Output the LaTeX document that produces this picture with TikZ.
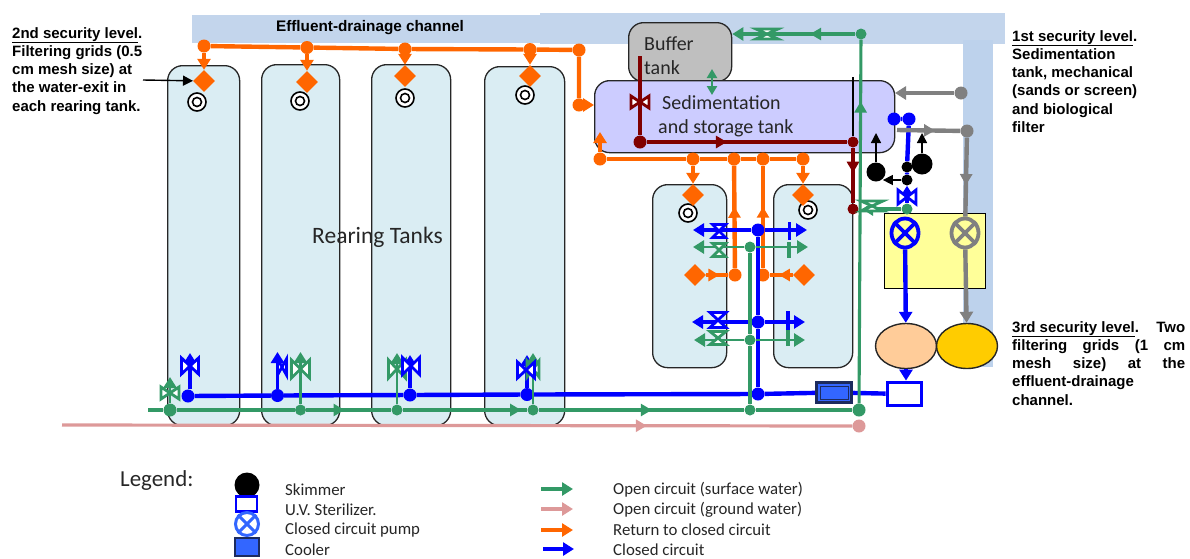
\documentclass[tikz,border=0pt]{standalone}
\usepackage{fontspec}
\setmainfont{Carlito}
\newfontfamily\arialf{Liberation Sans}
\usetikzlibrary{arrows.meta,decorations.markings,shapes.geometric}
\definecolor{chan}{HTML}{C3D5EC}
\definecolor{chanv}{HTML}{BDD2EC}
\definecolor{tankc}{HTML}{DAEDF3}
\definecolor{gr}{HTML}{339966}
\definecolor{pk}{HTML}{DD9999}
\definecolor{og}{HTML}{FF6600}
\definecolor{bl}{HTML}{0000FF}
\definecolor{rd}{HTML}{800000}
\definecolor{gy}{HTML}{808080}
\definecolor{lb}{HTML}{3366FF}
\definecolor{nv}{HTML}{1C2B5E}
\definecolor{bufc}{HTML}{BFBFBF}
\definecolor{sedc}{HTML}{CCCCFF}
\definecolor{yelc}{HTML}{FFFF99}
\definecolor{peachc}{HTML}{FFCC99}
\definecolor{goldc}{HTML}{FFCC00}
\tikzset{
 x=1pt,y=-1pt,
 tank/.style={draw=black!85,line width=1.3pt,fill=tankc,rounded corners=15pt,inner sep=0pt,anchor=north west},
 dot/.style={circle,fill=#1,inner sep=0pt,minimum size=13pt},
 sdot/.style={circle,fill=#1,inner sep=0pt,minimum size=11pt},
 ring/.style={circle,draw=black,line width=1.6pt,fill=white,minimum size=18pt,inner sep=0pt,
   path picture={\draw[black,line width=1.6pt] (path picture bounding box.center) circle[radius=4.5pt];}},
 diam/.style={diamond,fill=og,inner sep=0pt,minimum size=22pt},
 ol/.style={draw=og,line width=4.4pt},
 bll/.style={draw=bl,line width=4.4pt},
 gl/.style={draw=gr,line width=3.1pt},
 rl/.style={draw=rd,line width=3.6pt},
 gyl/.style={draw=gy,line width=4.4pt},
 pl/.style={draw=pk,line width=3.2pt},
 kl/.style={draw=black,line width=1.4pt},
 tip/.style={-{Triangle[length=11pt,width=13pt]}},
 ktip/.style={-{Triangle[length=10pt,width=10pt]}},
 midar/.style={postaction={decorate},decoration={markings,mark=at position #1 with {\arrow{Triangle[length=11pt,width=12pt]}}}},
 pump/.style={ellipse,draw=#1,line width=3.8pt,fill=none,inner sep=0pt,minimum width=27pt,minimum height=29pt},
 lab/.style={font=\fontsize{16.8}{18}\selectfont,anchor=west,inner sep=0pt,text=black!85},
 note/.style={font=\arialf\bfseries\fontsize{15}{18.3}\selectfont,anchor=north west,align=left,inner sep=0pt,text=black},
 pics/vv/.style n args={3}{code={\draw[draw=#1,fill=white,line width=2.8pt,line join=miter]
   (-#2,-#3)--(#2,#3)--(#2,-#3)--(-#2,#3)--cycle;}},
}
\begin{document}
\begin{tikzpicture}
\useasboundingbox (0,0) rectangle (1190,558);
% drainage channel
\fill[chan] (192,15) rectangle (541,43);
\fill[chan] (540,13) rectangle (1005,44);
\fill[chanv] (963,40) rectangle (993,367);
\node[font=\arialf\bfseries\fontsize{15.3}{18}\selectfont,inner sep=0pt] (chanlab) at (370,28) {Effluent-drainage channel};
% tanks
\node[tank,minimum width=72pt,minimum height=360pt] (t1) at (167,65) {};
\node[tank,minimum width=78pt,minimum height=361pt] (t2) at (261,64) {};
\node[tank,minimum width=79pt,minimum height=361pt] (t3) at (371,64) {};
\node[tank,minimum width=80pt,minimum height=359pt] (t4) at (484,66) {};
\node[tank,minimum width=74pt,minimum height=183pt] (t5) at (652,184) {};
\node[tank,minimum width=79pt,minimum height=183pt] (t6) at (773,184) {};
\node[tank,fill=bufc,minimum width=103pt,minimum height=59pt] (buf) at (628,22) {};
\node[tank,fill=sedc,minimum width=300pt,minimum height=72pt] (sed) at (594,80) {};
\node[draw=black,line width=1.4pt,fill=yelc,minimum width=101pt,minimum height=75pt,inner sep=0pt,anchor=north west] (yel) at (884,213) {};
\node[ellipse,draw=black!85,line width=1.4pt,fill=peachc,minimum width=61pt,minimum height=45pt,inner sep=0pt] (peach) at (906,346) {};
\node[ellipse,draw=black!85,line width=1.4pt,fill=goldc,minimum width=61pt,minimum height=45pt,inner sep=0pt] (gold) at (967,346) {};
% tank texts
\node[font=\fontsize{23.5}{28}\selectfont,anchor=west,inner sep=0pt,text=black!85] (rt) at (312,237) {Rearing Tanks};
\node[font=\fontsize{20}{24}\selectfont,anchor=north west,align=left,inner sep=0pt,text=black!85] (buft) at (644,36) {Buffer\\tank};
\node[font=\fontsize{20}{24}\selectfont,anchor=north west,align=left,inner sep=0pt,text=black!85] (sedt) at (658,95) {\hspace*{4pt}Sedimentation\\and storage tank};
% rings
\node[ring] (r1) at (197,102) {};
\node[ring] (r2) at (300,101) {};
\node[ring] (r3) at (405,98) {};
\node[ring] (r4) at (525,95) {};
\node[ring] (r5) at (688,213) {};
\node[ring] (r6) at (808,210) {};
% return to closed circuit (top)
\node[dot=og] (oa) at (204,46) {};
\node[dot=og] (ob) at (307,47.5) {};
\node[dot=og] (oc) at (405,49) {};
\node[dot=og] (od) at (530,49.5) {};
\node[dot=og] (oe) at (579,50) {};
\node[dot=og] (of) at (579,105) {};
\node[diam] (d1) at (204,81) {};
\node[diam] (d2) at (307,82) {};
\node[diam] (d3) at (405,76) {};
\node[diam] (d4) at (530,76) {};
\draw[ol] (oa)--(ob)--(oc)--(od)--(oe)--(of);
\draw[ol,tip] (of)--(sed.west |- of);
\foreach \a/\b in {oa/d1,ob/d2,oc/d3,od/d4}{\draw[ol,tip] (\a)--(\b);}
% return (bottom bus)
\node[dot=og] (pa) at (600,159) {};
\node[dot=og] (pb) at (693,159) {};
\node[dot=og] (pc) at (734,159) {};
\node[dot=og] (pd) at (763,159) {};
\node[dot=og] (pe) at (803,159) {};
\coordinate (pu) at (600,132);
\node[dot=og] (qa) at (735,275) {};
\node[dot=og] (qb) at (763,275) {};
\node[diam] (d5) at (693,195) {};
\node[diam] (d6) at (803,195) {};
\node[diam] (d7) at (695,275) {};
\node[diam] (d8) at (804,275) {};
\draw[ol] (pa)--(pb)--(pc)--(pd)--(pe);
\draw[ol,tip] (pa)--(pu);
\draw[ol,tip] (pb)--(d5);
\draw[ol,tip] (pe)--(d6);
\draw[ol,midar=0.6] (qa)--(pc);
\draw[ol,midar=0.6] (qb)--(pd);
\draw[ol,midar=0.6] (d7)--(qa);
\draw[ol,midar=0.6] (d8)--(qb);
% pink
\coordinate (ps) at (62,425);
\node[dot=pk] (pk1) at (859,426) {};
\draw[pl,midar=0.74] (ps)--(pk1);
% dark red
\coordinate (rs) at (640,56);
\node[dot=rd] (ra) at (640,142) {};
\node[sdot=rd] (rb) at (853,142) {};
\node[sdot=rd] (rc) at (853,209) {};
\draw[kl] (853,77)--(rb);
\draw[rl] (rs)--(ra);
\draw[rl,midar=0.4] (ra)--(rb);
\draw[rl,midar=0.45] (rb)--(rc);
\pic at (640,102) {vv={rd}{9}{6}};
% blue closed circuit
\node[dot=bl] (ba) at (188,396) {};
\node[dot=bl] (bb) at (277.5,395.5) {};
\node[dot=bl] (bc) at (410,395) {};
\node[dot=bl] (bd) at (527,394.5) {};
\node[dot=bl] (be) at (758,394) {};
\node[draw=nv,line width=3.4pt,fill=lb,minimum width=35pt,minimum height=20pt,inner sep=0pt] (cool) at (834,392.5) {};
\node[draw=nv,line width=.9pt,minimum width=28pt,minimum height=13pt,inner sep=0pt] (cool2) at (834,392.5) {};
\node[draw=bl,line width=3.8pt,fill=white,minimum width=34pt,minimum height=23pt,inner sep=0pt] (uv) at (904.5,394) {};
\draw[bll] (ba)--(bb)--(bc)--(bd)--(be)--(cool);
\draw[bll] (cool)--(uv);
\coordinate (bua) at (190,353);
\coordinate (bub) at (277.5,352);
\coordinate (buc) at (410,355);
\coordinate (bud) at (527,355);
\draw[bll,line width=3.6pt,tip] (ba.north -| bua)--(bua);
\draw[bll,line width=3.6pt,tip] (bb)--(bub);
\draw[bll,line width=3.6pt,tip] (bc)--(buc);
\draw[bll,line width=3.6pt,tip] (bd)--(bud);
\node[dot=bl] (bf) at (758,322) {};
\node[dot=bl] (bg) at (758,230) {};
\draw[bll] (be)--(bf)--(bg);
\coordinate (bg1) at (693,230);
\coordinate (bg2) at (807,230);
\coordinate (bf1) at (692,322);
\coordinate (bf2) at (805,322);
\draw[bll,line width=3.6pt,tip] (bg)--(bg1);
\draw[bll,line width=3.6pt,tip] (bg)--(bg2);
\draw[bll,line width=3.6pt,tip] (bf)--(bf1);
\draw[bll,line width=3.6pt,tip] (bf)--(bf2);
\draw[bll,line width=3pt] (789,222)--(789,240);
\draw[bll,line width=3.4pt] (788,311)--(788,330);
% green open circuit
\coordinate (gs) at (148,410);
\node[dot=gr] (ga) at (170,410) {};
\node[sdot=gr] (gb) at (300.5,410) {};
\node[sdot=gr] (gc) at (397,410) {};
\node[sdot=gr] (gd) at (533,410) {};
\node[sdot=gr] (ge) at (750,410) {};
\node[dot=gr] (gf) at (859,410) {};
\draw[gl] (gs)--(ga)--(gb);
\draw[gl,midar=0.45] (gb)--(gc);
\draw[gl,midar=0.95] (gc)--(gd);
\draw[gl,midar=0.55] (gd)--(ge);
\draw[gl] (ge)--(gf);
\coordinate (gua) at (170,377);
\coordinate (gub) at (300.5,352);
\coordinate (guc) at (397,353);
\coordinate (gud) at (533,353);
\foreach \a/\b in {ga/gua,gb/gub,gc/guc,gd/gud}{\draw[gl,line width=2.8pt,tip] (\a)--(\b);}
\node[sdot=gr] (gg) at (750,340) {};
\node[sdot=gr] (gh) at (750,247) {};
\draw[gl] (ge)--(gg)--(gh);
\coordinate (gh1) at (693,247);
\coordinate (gh2) at (808,247);
\coordinate (gg1) at (694,340);
\coordinate (gg2) at (805,340);
\draw[gl,line width=2.8pt,tip] (gh)--(gh1);
\draw[gl,line width=2.8pt,tip] (gh)--(gh2);
\draw[gl,line width=2.8pt,tip] (gg)--(gg1);
\draw[gl,line width=2.8pt,tip] (gg)--(gg2);
\draw[gl] (789,242)--(789,258);
\draw[gl] (788,330)--(788,346);
% green main riser and buffer feed
\node[sdot=gr] (gt) at (861,34) {};
\draw[gl,midar=0.83] (gf)--(gt);
\draw[gl,midar=0.5] (gt)--(765,34);
\draw[gl,tip] (765,34)--(buf.east |- gt);
\coordinate (bt1) at (712,69);
\coordinate (bt2) at (712,95);
\draw[gr,line width=2.6pt,{Triangle[length=9pt,width=10pt]}-{Triangle[length=9pt,width=10pt]}] (bt1)--(bt2);
\node[sdot=gr] (gy0) at (907,209) {};
\coordinate (gm) at (862,209);
\draw[gl,tip] (gy0)--(gm);
% valves
\pic at (767,34) [rotate=90] {vv={gr}{5}{11}};
\pic at (872,206) [rotate=90] {vv={gr}{5}{11}};
\pic at (190,366) {vv={bl}{8.5}{8}};
\pic at (170,393) {vv={gr}{9}{6}};
\pic at (282,367) {vv={bl}{4.5}{8}};
\pic at (300.5,369) {vv={gr}{9}{9}};
\pic at (397,369) {vv={gr}{8.5}{9}};
\pic at (411,366) {vv={bl}{8.5}{8.5}};
\pic at (533,369) {vv={gr}{6}{8}};
\pic at (526,370) {vv={bl}{8.5}{8}};
\pic at (719,231) [rotate=90] {vv={bl}{6.5}{6.5}};
\pic at (719,250) [rotate=90] {vv={gr}{6.5}{6.5}};
\pic at (718,320) [rotate=90] {vv={bl}{7.5}{8}};
\pic at (718,338) [rotate=90] {vv={gr}{6.5}{8}};
% blue top right
\node[dot=bl] (ta) at (894,119) {};
\node[dot=bl] (tb) at (909,119) {};
\node[sdot=black] (kb) at (907,167) {};
\node[sdot=black] (ka) at (907,180) {};
\node[pump=bl] (pmp1) at (905,233) {};
\draw[bl,line width=3.8pt] (pmp1.45)--(pmp1.225) (pmp1.135)--(pmp1.315);
\node[pump=gy] (pmp2) at (965,233) {};
\draw[gy,line width=3.8pt] (pmp2.45)--(pmp2.225) (pmp2.135)--(pmp2.315);
\draw[bll] (ta)--(tb)--(kb)--(ka);
\draw[bll,line width=3.6pt,tip] (gy0)--(ka);
\pic at (907,197) {vv={bl}{9}{7}};
\draw[bll,tip] (pmp1)--(peach);
\draw[bll,line width=3.6pt,tip] (peach)--(uv.north -| peach);
% grey
\node[dot=gy] (ya) at (961,93) {};
\coordinate (yb) at (895,93);
\draw[gyl,tip] (ya)--(yb);
\node[dot=gy] (yc) at (967,131) {};
\coordinate (yd) at (897,130);
\draw[gyl,midar=0.6] (yd)--(yc);
\draw[gyl,midar=0.6] (yc)--(pmp2);
\draw[gyl,tip] (pmp2)--(gold);
% skimmers
\node[circle,fill=black,minimum size=19pt,inner sep=0pt] (sk1) at (876,172) {};
\node[circle,fill=black,minimum size=21pt,inner sep=0pt] (sk2) at (922,164) {};
\coordinate (sk1u) at (876,133);
\coordinate (sk2u) at (922,133);
\draw[kl,ktip] (sk1)--(sk1u);
\draw[kl,ktip] (sk2)--(sk2u);
\draw[kl,ktip] (ka)--(ka -| sk1.south east);
\draw[kl] (kb)--(sk2);
% pointer to the grid
\coordinate (ptr) at (143,80);
\draw[kl,ktip] (ptr)--(d1);
% notes
\node[note] (n2) at (12,27) {\underline{2nd security level}.\\Filtering grids (0.5\\cm mesh size) at\\the water-exit in\\each rearing tank.};
\node[note] (n1) at (1012,30) {\underline{1st security level}.\\Sedimentation\\tank, mechanical\\(sands or screen)\\and biological\\filter};
\node[note] (n3) at (1012,321) {\makebox[173pt][s]{\underline{3rd security level}. Two}\\\makebox[173pt][s]{filtering grids (1 cm}\\\makebox[173pt][s]{mesh size) at the}\\effluent-drainage\\channel.};
% legend
\node[font=\fontsize{22.9}{26}\selectfont,anchor=west,inner sep=0pt,text=black!85] (lg) at (120,481) {Legend:};
\node[circle,fill=black,minimum size=25pt,inner sep=0pt] (l1) at (247,485) {};
\node[draw=bl,line width=2.8pt,fill=white,minimum width=21pt,minimum height=15pt,inner sep=0pt] (l2) at (246.5,504) {};
\node[pump=lb,minimum width=23pt,minimum height=23pt,line width=3pt] (l3) at (247,524) {};
\draw[lb,line width=3pt] (l3.45)--(l3.225) (l3.135)--(l3.315);
\node[draw=nv,line width=2.8pt,fill=lb,minimum width=24pt,minimum height=18pt,inner sep=0pt] (l4) at (247,547) {};
\node[lab] (lt1) at (285,490) {Skimmer};
\node[lab] (lt2) at (285,510) {U.V. Sterilizer.};
\node[lab] (lt3) at (285,530) {Closed circuit pump};
\node[lab] (lt4) at (285,550) {Cooler};
\coordinate (a1) at (541,489); \coordinate (b1) at (573,489);
\coordinate (a2) at (541,509); \coordinate (b2) at (573,509);
\coordinate (a3) at (541,530); \coordinate (b3) at (573,530);
\coordinate (a4) at (543,549); \coordinate (b4) at (574,549);
\draw[gl,tip] (a1)--(b1);
\draw[pl,tip] (a2)--(b2);
\draw[ol,line width=3.4pt,tip] (a3)--(b3);
\draw[bll,line width=3.4pt,tip] (a4)--(b4);
\node[lab] (rt1) at (613,490) {Open circuit (surface water)};
\node[lab] (rt2) at (613,510) {Open circuit (ground water)};
\node[lab] (rt3) at (613,530) {Return to closed circuit};
\node[lab] (rt4) at (613,550) {Closed circuit};
\end{tikzpicture}
\end{document}
